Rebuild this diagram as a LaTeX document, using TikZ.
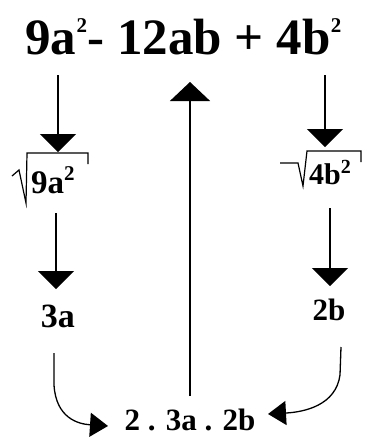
\documentclass[tikz,border=0pt]{standalone}
\usepackage{fontspec}
\setmainfont{Liberation Serif}
\usetikzlibrary{arrows.meta}
\begin{document}
\begin{tikzpicture}[x=1pt,y=-1pt,
  txt/.style={font=\bfseries, inner sep=0pt, anchor=base},
  topf/.style={txt, anchor=base west, font=\bfseries\fontsize{51}{51}\selectfont},
  supf/.style={txt, anchor=base west, font=\bfseries\fontsize{21}{21}\selectfont},
  big/.style={-{Triangle[width=36pt,length=18pt]}, line width=1.3pt},
  small/.style={-{Triangle[width=24pt,length=18pt]}, line width=1.3pt},
  rad/.style={line width=1.2pt, line join=miter}]
\useasboundingbox (0,0) rectangle (371,437);
% top expression
\node[topf] (t1) at (25,54) {9a};
\node[supf] (s1) at ([yshift=22pt]t1.base east) {2};
\node[topf] (t2) at (s1.base east |- t1.base) {- 12ab + 4b};
\node[supf] (s2) at ([yshift=22pt]t2.base east) {2};
% left radical
\node[txt, anchor=base west, font=\bfseries\fontsize{33}{33}\selectfont] (r1) at (31,193)
  {9a\raisebox{13pt}{\fontsize{21}{21}\selectfont 2}};
\draw[rad] (12,176) -- (19,170) -- (26,203) -- (27,153) -- (88,153) -- (88,164);
% right radical
\node[txt, anchor=base west, font=\bfseries\fontsize{30}{30}\selectfont] (r2) at (309,184)
  {4b\raisebox{11pt}{\fontsize{20}{20}\selectfont 2}};
\draw[rad] (280,163) -- (298,163) -- (303,186) -- (307,151) -- (361,151) -- (361,162);
% labels
\node[txt, font=\bfseries\fontsize{34}{34}\selectfont] (a3) at (58,327) {3a};
\node[txt, font=\bfseries\fontsize{31}{31}\selectfont] (b2) at (329,320) {2b};
\node[txt, font=\bfseries\fontsize{31}{31}\selectfont] (prod) at (190,430) {2 . 3a . 2b};
% coordinates
\coordinate (l1s) at (58,75);  \coordinate (l1e) at (58,152);
\coordinate (l2s) at (56,213); \coordinate (l2e) at (56,289);
\coordinate (r1s) at (325,75); \coordinate (r1e) at (325,147);
\coordinate (r2s) at (330,208); \coordinate (r2e) at (330,286);
\coordinate (ms) at (190,396); \coordinate (me) at (190,82);
\coordinate (cls) at (54,353); \coordinate (cle) at (108,426);
\coordinate (crs) at (341,347); \coordinate (cre) at (268,414);
% arrows
\draw[big] (l1s) -- (l1e);
\draw[big] (l2s) -- (l2e);
\draw[big] (r1s) -- (r1e);
\draw[big] (r2s) -- (r2e);
\draw[big, -{Triangle[width=40pt,length=19pt]}] (ms) -- (me);
\draw[small] (cls) -- (54,385) .. controls (56,418) and (78,424) .. (cle);
\draw[small] (crs) -- (340,375) .. controls (336,405) and (305,412) .. (cre);
\end{tikzpicture}
\end{document}
